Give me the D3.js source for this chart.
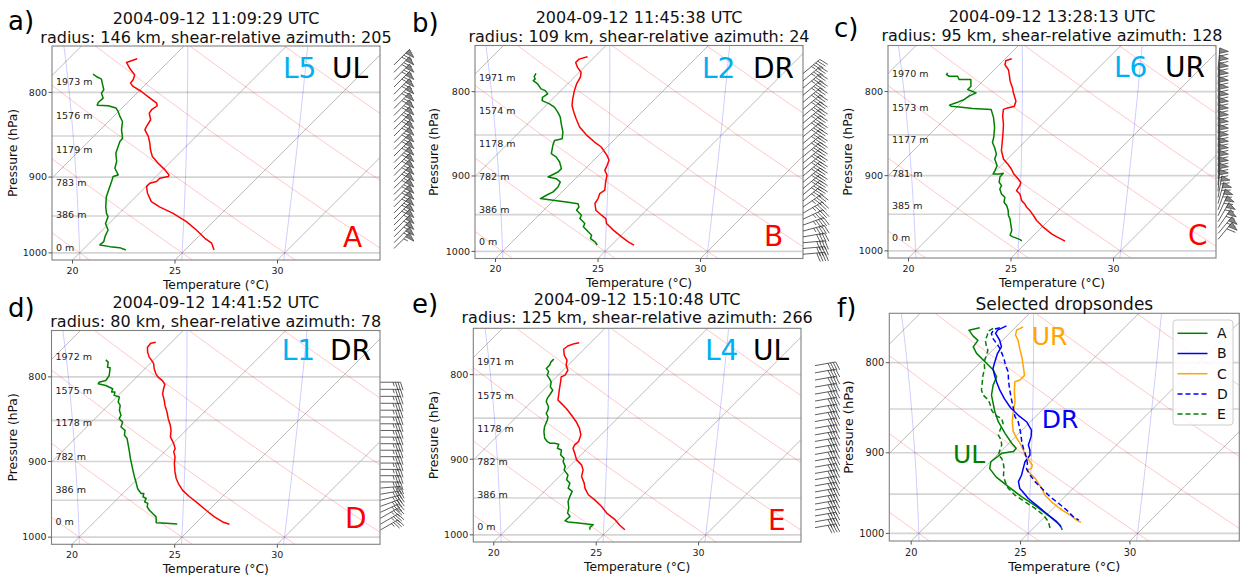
<!DOCTYPE html>
<html><head><meta charset="utf-8">
<script src="https://cdn.jsdelivr.net/npm/d3@7"></script>
<style>body{margin:0;background:#fff}svg text{font-family:"DejaVu Sans",sans-serif}</style>
</head><body>
<svg id="c" width="1245" height="575"></svg>
<script>
// ---------------- DATA ----------------
const tempTicks=[20,25,30];
const presTicks=[800,900,1000];
const presGrid=[800,850,900,950,1000];

// Sounding A (panel a)
const A_tP=[763.5,767.4,773.5,780.7,786.1,789.7,793.4,799,806.4,812,815,819.5,823.4,831,838.8,842.7,850.5,858.5,866.5,874.7,882.8,891,897.3,899.3,901.4,905.6,907.8,912,920.4,931.3,938,946.5,957.6,968.7,980,986.7,995.9];
const A_tT=[13.34,13.0,13.43,14.0,14.17,14.2,14.49,15.14,15.88,16.45,16.61,16.53,16.58,16.97,17.1,17.18,17.67,18.07,18.43,18.85,19.46,20.11,20.56,20.6,20.27,20.27,20.03,20.03,20.4,21.0,21.65,22.63,23.69,24.58,25.4,25.97,26.41];
const A_dP=[780,782.5,785.4,789.7,797,800.8,806.4,811.3,814.3,815,817.6,821.5,827.2,833,842.7,852.6,856.5,862.5,870.5,880.7,889,897.3,899.3,905.6,914,924.8,937.8,946.5,950.9,960,968.7,977,984.6,989,991.4,992.8,996];
const A_dT=[11.94,12.21,12.59,12.82,13.22,13.27,13.6,13.57,13.65,14.22,14.71,14.98,15.31,15.68,16.04,16.5,16.53,16.69,16.9,17.35,17.59,18.08,17.91,18.08,18.29,18.56,19.02,19.38,19.62,19.83,20.27,20.43,20.63,20.6,21.17,21.7,22.11];
// Sounding B
const B_tP=[761.9,764.4,768,773.3,778.6,784,791.4,798.8,808.1,815.6,823.2,830.9,840.5,850,858.3,864.3,874.5,880.5,886.7,892.9,899.1,907.6,918.1,922.5,928.9,935.3,944.1,950.7,955.2,961.8,970.7,980,986.7,991.2];
const B_tT=[14.65,14.35,14.35,14.68,15.09,15.3,15.44,15.66,15.98,16.27,16.68,17.12,17.69,18.42,19.15,19.72,20.41,20.75,20.9,21.03,21.38,21.64,22.0,21.92,22.08,22.17,22.54,23.06,23.43,23.71,24.36,25.1,25.66,26.1];
const B_dP=[779.7,783.4,785.9,787.7,791.4,796.9,798.8,802.5,806.3,810,813.7,817.5,823.2,828.9,836.6,846.4,854.4,856.4,862.3,872.4,876.5,882.6,890.8,895,899.1,901.3,903.4,907.6,914,920.2,924.6,928.9,931.1,933.3,935.5,939.9,944.1,950.7,955.2,961.8,966.3,973,977.6,982.2,986.7,991.2];
const B_dT=[12.94,13.02,13.18,13.16,13.54,13.95,14.24,14.52,14.43,14.57,15.09,15.49,15.9,16.26,16.63,17.12,17.41,17.12,17.28,17.61,18.02,18.42,18.83,18.83,18.67,18.59,19.07,19.43,19.56,19.56,19.4,19.27,19.97,20.7,21.35,21.56,21.6,22.08,22.17,22.65,22.74,23.22,23.55,23.66,24.04,24.31];
// Sounding C
const C_tP=[764.1,766.2,770.5,775.9,781.2,788.4,795.9,801.4,810.8,816.6,818.5,820.2,827.9,837.5,847.2,857.1,869.1,879.5,885.8,891.7,897.9,904.2,908.5,912.7,919,923.3,932,936.4,940.6,945.1,951.6,958.3,967.3,976.4,980.6,986.3];
const C_tT=[15.32,15.12,15.28,15.69,15.97,16.33,16.78,17.06,17.59,17.76,17.51,17.38,17.67,18.11,18.49,18.86,19.3,19.82,20.28,20.68,21.04,21.5,21.79,21.9,21.98,22.31,22.72,23.04,23.28,23.61,24.02,24.42,25.07,25.8,26.21,26.81];
const C_dP=[779.4,781.2,783,783,786.7,786.7,794.1,797.7,801.4,804.9,808.9,812.7,815.3,816.5,817.6,819.1,820.2,829.7,841.4,853.2,859.1,865.2,873.2,879.3,887.5,893.6,897.9,897.9,897,902.1,908.4,912.7,917,923.3,927.7,934.1,938.5,945.1,951.6,956.1,962.8,971.7,978.4,980.6,984.3,986.3];
const C_dT=[12.88,12.91,13.12,13.53,13.77,14.34,14.67,14.67,15.24,15.07,14.99,14.75,14.54,14.67,15.12,15.84,16.78,17.3,17.84,18.28,18.46,18.81,19.22,19.38,19.82,19.95,20.03,20.33,20.49,20.52,20.73,21.01,21.09,21.41,21.74,21.94,22.23,22.55,22.8,23.04,23.32,23.69,23.85,24.07,24.55,24.7];
// Sounding D
const D_tP=[762.4,763.4,767.6,772.9,778.3,781.9,785.5,791,796.6,800.3,804.1,808.6,813.3,819.1,826.6,832.4,840.1,848,855.8,861.8,869.7,877.9,884,888,894.3,902.6,913.2,921.6,928.1,936.9,945.3,954.1,963.2,972.2,979.1,982.2];
const D_tT=[14.24,14.04,14.07,14.32,14.64,14.92,15.18,15.45,15.78,16.05,16.43,16.74,16.88,17.08,17.48,17.76,18.18,18.57,18.99,19.27,19.56,20.05,20.36,20.45,20.76,21.05,21.49,21.87,22.22,22.76,23.41,24.14,24.87,25.6,26.25,26.69];
const D_dP=[781.3,783.8,789.3,790,798.5,804.1,806,807.8,809.7,813.3,817,817,820.9,822.8,828.5,832.4,838.1,844,848,851.9,857.8,861.8,867.7,871.7,880,888.2,896.4,904.7,910.9,919.6,926.1,934.8,941,941,945.3,947.6,951.9,954.1,958.6,963.2,967.7,972.2,980.1,981,982];
const D_dT=[12.66,12.89,13.1,13.26,13.59,13.67,13.42,13.46,13.91,14.4,14.51,14.67,14.8,15.13,15.32,15.58,15.78,16.1,16.18,16.51,16.67,17.03,17.24,17.53,17.92,18.3,18.67,19.06,19.35,19.76,20.08,20.49,20.89,21.02,21.14,21.38,21.46,21.7,21.83,22.11,22.43,22.76,23.05,23.57,24.14];
// Sounding E
const E_tP=[765.2,766.2,768.7,772.2,778.8,784.1,789.5,795.1,800.6,802.5,808,815.5,823,828.8,832.7,838.6,846.3,854.2,862.2,870,878.3,882.3,886.4,892.6,900.8,907.1,913.5,922,930.5,937,945.7,952.4,961.2,970.1,979.1,986.3,992.9];
const E_tT=[14.44,14.25,14.04,14.0,14.33,14.7,14.9,15.23,15.34,15.23,15.44,15.71,15.99,16.2,16.53,17.02,17.59,18.15,18.64,19.02,19.24,19.21,19.29,19.62,20.03,20.52,20.84,21.09,21.54,21.82,22.31,22.87,23.53,24.1,24.83,25.31,25.8];
const E_dP=[782.9,785.9,789.5,793.1,796.7,800.6,804.4,808,813.8,817.6,823,826.9,830.7,836.6,840.4,844.3,848.3,852.2,860.2,866.1,874.1,878.3,880.2,880.2,881.5,886.4,888.5,894.7,898.8,903,909.3,913.5,920,926.2,930.5,937,941.3,947.9,954.6,963.5,970.1,974.6,980.5,982.3,983.6,985.9,989.6,992.8];
const E_dT=[14.0,14.0,14.09,14.09,14.36,14.46,14.74,14.98,15.19,15.47,15.55,15.6,15.71,16.07,16.2,16.28,16.53,16.66,16.85,17.06,17.42,17.72,17.91,18.15,18.4,18.53,18.81,19.02,19.34,19.46,19.81,19.91,20.35,20.52,20.84,21.0,21.36,21.49,21.65,22.01,22.19,22.47,22.44,22.66,23.2,24.01,23.98,24.09];

// Panel f : selected (smoothed) temperature profiles
const F_A_P=[764.4,766.7,772.5,777,783.6,790.3,799,807.8,814.9,823.8,834.6,843.8,853.1,864.2,877.4,888.9,894.7,898.6,900.6,910.6,918.8,929.1,940.8,953.2,965.7,978.4,989.1,995.6];
const F_A_T=[13.39,13.0,13.45,13.88,13.96,14.41,15.18,15.94,16.4,16.62,17.0,17.46,17.92,18.53,19.37,20.13,20.56,20.59,20.13,20.02,20.28,20.97,21.96,23.02,24.17,25.23,26.07,26.41];
const F_B_P=[762.4,766.7,770,776.9,783.6,790.3,799,806.3,813.4,820.2,829.3,838.8,848.5,857.7,864.2,873.7,881.2,890.9,896.8,902.6,910.6,918.8,926.5,934.6,943.1,947.3,955.4,965.7,976.2,984.8,991.3];
const F_B_T=[14.52,14.31,14.37,14.87,15.25,15.37,15.63,15.86,16.24,16.62,17.16,17.77,18.45,19.21,19.82,20.43,20.71,20.97,21.27,21.5,21.58,21.81,22.03,22.19,22.57,22.87,23.41,24.24,25.08,25.77,26.2];
const F_C_P=[763.4,766.7,771.7,776.9,785.5,794.1,802.6,813.4,818.6,820.2,830.9,841.9,853.1,864.2,875.5,883.1,888.9,896.8,902.6,908.6,914.5,918.8,920.5,924.5,930.5,936.7,942.8,951.1,959.6,968,976.2,982.7,985.7];
const F_C_T=[15.33,15.18,15.36,15.71,16.17,16.65,17.08,17.61,17.61,17.46,17.89,18.38,18.76,19.17,19.67,20.13,20.51,20.97,21.27,21.68,22.06,22.19,22.03,22.34,22.8,23.18,23.56,24.01,24.62,25.31,26.07,26.61,26.91];
const F_D_P=[764.4,765.7,770,775.2,780.1,785.2,795.8,802.6,809.6,818.8,827.8,838.5,849.3,858.5,864.2,871.8,879.3,886.9,894.7,900.6,906.6,912.9,918.8,926.5,934.6,942.8,953.2,961.4,969.9,978.4,982.7];
const F_D_T=[14.31,14.11,14.18,14.49,14.87,15.25,15.91,16.27,16.7,17.11,17.54,18.07,18.61,19.06,19.44,19.82,20.17,20.51,20.89,21.2,21.5,21.78,21.96,22.42,22.95,23.56,24.32,25.01,25.69,26.3,26.71];
const F_E_P=[765,767.7,772,776.9,782.1,787.2,792.2,799,806.3,813.4,820.2,829.3,834.6,840,845.3,851.1,856.8,860.4,866.2,873.6,879.3,885.1,890.9,896.8,902.6,906.6,912.5,918.8,926.5,934.6,942.8,951.1,959.6,967.8,976.2,984.8,993.4];
const F_E_T=[14.03,13.93,14.08,14.21,14.49,14.79,14.95,15.14,15.48,15.71,15.97,16.32,16.62,17.08,17.39,17.69,18.07,18.53,18.83,18.99,19.14,19.49,19.75,19.9,20.05,20.36,20.66,20.94,21.2,21.58,22.03,22.64,23.41,24.17,24.85,25.39,25.77];
const legendNames=["A","B","C","D","E"];

// Height labels (text) and their pressure levels
const A_hTxt=["1973 m","1576 m","1179 m","783 m","386 m","0 m"], A_hP=[787.9,826.5,866.8,906.4,948.6,992.3];
const B_hTxt=["1971 m","1574 m","1178 m","782 m","386 m","0 m"], B_hP=[784.1,821.3,860.3,900.4,943.1,986.7];
const C_hTxt=["1970 m","1573 m","1177 m","781 m","385 m","0 m"], C_hP=[779.9,818,855.5,897.4,938.6,981.7];
const D_hTxt=["1972 m","1575 m","1178 m","782 m","386 m","0 m"], D_hP=[777.6,815.2,853,894.3,935.4,978.8];
const E_hTxt=["1971 m","1575 m","1178 m","782 m","386 m","0 m"], E_hP=[785.5,823.5,862.4,902.5,945.3,988.7];

// Titles / tags
const titles1=["2004-09-12 11:09:29 UTC","2004-09-12 11:45:38 UTC","2004-09-12 13:28:13 UTC","2004-09-12 14:41:52 UTC","2004-09-12 15:10:48 UTC"];
const titles2=["radius: 146 km, shear-relative azimuth: 205","radius: 109 km, shear-relative azimuth: 24","radius: 95 km, shear-relative azimuth: 128","radius: 80 km, shear-relative azimuth: 78","radius: 125 km, shear-relative azimuth: 266"];
const legTags=["L5","L2","L6","L1","L4"];
const quadTags=["UL","DR","UR","DR","UL"];
const sondeTags=["A","B","C","D","E"];
const panelLetters=["a)","b)","c)","d)","e)","f)"];

// Wind barbs (pressure hPa, direction deg, speed kt)
const A_bP=[770,778,786,794,802,810,818,826,834,842,850,858,866,874,882,890,898,906,914,922,930,938,946,954,962,970,978,986,994];
const A_bD=[45,45,45,45,45,45,45,45,45,45,45,45,45,45,45,45,45,45,45,45,45,45,45,45,45,45,45,45,45];
const A_bS=[65,65,65,65,65,65,65,65,65,65,65,65,65,65,65,65,65,65,65,65,65,65,65,65,60,60,60,55,55];
const B_bP=[780,788,796,804,812,820,828,836,844,852,860,868,876,884,892,900,908,916,924,932,940,948,956,964,972,980,988,996,1004];
const B_bD=[50,50,50,50,50,50,50,50,50,50,50,50,50,50,50,50,50,50,50,50,55,60,65,70,75,80,85,85,85];
const B_bS=[45,45,45,45,45,45,45,45,45,45,45,45,45,45,45,45,45,45,45,45,45,45,45,45,45,40,40,40,40];
const C_bP=[776,784,792,800,808,816,824,832,840,848,856,864,872,880,888,896,904,912,920,928,936,944,952,960,968,976,984];
const C_bD=[5,5,5,5,5,5,5,5,5,5,5,5,5,5,5,5,5,5,5,10,15,20,25,30,35,40,40];
const C_bS=[60,60,60,60,60,60,60,60,60,60,60,60,60,60,60,60,60,60,60,60,60,60,60,60,60,60,60];
const D_bP=[806,814,822,830,838,846,854,862,870,878,886,894,902,910,918,926,934,942,950,958,966,974,982,990];
const D_bD=[90,90,90,90,90,90,90,90,90,90,90,90,90,90,90,90,85,80,75,70,65,60,60,60];
const D_bS=[35,35,35,35,35,35,35,35,35,35,35,35,35,35,35,35,35,35,35,35,35,35,35,35];
const E_bP=[790,798,806,814,822,830,838,846,854,862,870,878,886,894,902,910,918,926,934,942,950,958,966,974,982,990];
const E_bD=[80,80,80,80,80,80,80,80,80,80,80,80,80,80,80,80,80,80,80,80,80,80,80,80,80,80];
const E_bS=[40,40,40,40,40,40,40,40,40,40,40,40,40,40,40,40,40,40,40,40,40,40,40,40,40,40];

// background line families (°C at 1000 hPa / isotherm value)
const isotherms=d3.range(-60,40,5);
const dryStarts=d3.range(-20,85,5);
const moistStarts=[10,15,20,25,30,35];

// ---------------- RENDER ----------------
const svg=d3.select("#c");
const pDom=[1010,750], tDom=[19,35];
const Rd=287.04749,Cp=1004.6662,Lv=2.50084e6,EPS=0.6219569;
function moistLine(t0){
  const f=(p,T)=>{const tc=T-273.15;const es=6.112*Math.exp(17.67*tc/(tc+243.5));const rs=EPS*es/(p-es);
    return (Rd*T+Lv*rs)/(Cp+(Lv*Lv*rs*EPS)/(Rd*T*T))/p;};
  const integ=(h,pEnd)=>{let p=1000,T=t0+273.15;const out=[];
    while((h<0&&p>pEnd)||(h>0&&p<pEnd)){const k1=f(p,T),k2=f(p+h/2,T+h/2*k1),k3=f(p+h/2,T+h/2*k2),k4=f(p+h,T+h*k3);
      T+=h/6*(k1+2*k2+2*k3+k4);p+=h;out.push([p,T-273.15]);}return out;};
  return integ(1,1015).reverse().concat([[1000,t0]],integ(-1,745));
}
let clipId=0;
function panel(cfg){
  const g=svg.append("g");
  const x=d3.scaleLinear().domain(tDom).range([cfg.L,cfg.R]);
  const y=d3.scaleLog().domain(pDom).range([cfg.B,cfg.T]);
  const sx=(T,p)=>x(T)+(cfg.B-y(p));
  const id="clip"+(clipId++);
  svg.append("clipPath").attr("id",id).append("rect").attr("x",cfg.L).attr("y",cfg.T).attr("width",cfg.R-cfg.L).attr("height",cfg.B-cfg.T);
  const pg=g.append("g").attr("clip-path",`url(#${id})`);
  const line=d3.line().x(d=>sx(d[1],d[0])).y(d=>y(d[0]));
  pg.selectAll(".hg").data(presGrid).join("line").attr("x1",cfg.L).attr("x2",cfg.R).attr("y1",d=>y(d)).attr("y2",d=>y(d))
    .attr("stroke","#d4d4d4").attr("stroke-width",1.6);
  pg.selectAll(".iso").data(isotherms).join("line").attr("x1",d=>sx(d,1010)).attr("y1",y(1010)).attr("x2",d=>sx(d,750)).attr("y2",y(750))
    .attr("stroke","#ababab").attr("stroke-width",0.8);
  const pl=d3.range(1015,744,-5);
  pg.selectAll(".dry").data(dryStarts).join("path").attr("fill","none").attr("stroke","#ff0000").attr("stroke-opacity",0.22).attr("stroke-width",1)
    .attr("d",t0=>line(pl.map(p=>[p,(t0+273.15)*Math.pow(p/1000,0.28571)-273.15])));
  pg.selectAll(".moist").data(moistStarts).join("path").attr("fill","none").attr("stroke","#0000ff").attr("stroke-opacity",0.2).attr("stroke-width",1)
    .attr("d",t0=>line(moistLine(t0)));
  cfg.series.forEach(s=>{
    pg.append("path").attr("fill","none").attr("stroke",s.color).attr("stroke-width",s.w||1.5)
      .attr("stroke-dasharray",s.dash||null).attr("stroke-linejoin","round")
      .attr("d",line(s.P.map((p,i)=>[p,s.T[i]])));
  });
  g.append("rect").attr("x",cfg.L).attr("y",cfg.T).attr("width",cfg.R-cfg.L).attr("height",cfg.B-cfg.T).attr("fill","none").attr("stroke","#808080").attr("stroke-width",1.1);
  const fs=cfg.tickFs;
  presTicks.forEach(p=>{
    g.append("line").attr("x1",cfg.L-3.5).attr("x2",cfg.L).attr("y1",y(p)).attr("y2",y(p)).attr("stroke","#555");
    g.append("text").attr("x",cfg.L-5).attr("y",y(p)).attr("dy","0.35em").attr("text-anchor","end").attr("font-size",fs).attr("fill","#222").text(p);
  });
  tempTicks.forEach(t=>{
    g.append("line").attr("x1",x(t)).attr("x2",x(t)).attr("y1",cfg.B).attr("y2",cfg.B+3.5).attr("stroke","#555");
    g.append("text").attr("x",x(t)).attr("y",cfg.B+cfg.tickDy).attr("text-anchor","middle").attr("font-size",fs).attr("fill","#222").text(t);
  });
  g.append("text").attr("x",(cfg.L+cfg.R)/2).attr("y",cfg.B+cfg.labDy).attr("text-anchor","middle").attr("font-size",cfg.labFs).attr("fill","#111").text("Temperature (°C)");
  g.append("text").attr("transform",`translate(${cfg.yLabX},${(cfg.T+cfg.B)/2}) rotate(-90)`).attr("text-anchor","middle").attr("dy","0.35em").attr("font-size",cfg.labFs).attr("fill","#111").text("Pressure (hPa)");
  if(cfg.hTxt){
    cfg.hTxt.forEach((t,i)=>g.append("text").attr("x",cfg.L+4).attr("y",y(cfg.hP[i])).attr("dy","0.35em").attr("font-size",9.5).attr("fill","#222").text(t));
  }
  if(cfg.barb){
    const b=cfg.barb;
    b.P.forEach((p,i)=>drawBarb(g,b.x,y(p),b.D[i],b.S[i],b.len));
  }
  return {x,y,sx};
}
function drawBarb(g,x0,y0,dir,spd,L){
  const r=dir*Math.PI/180;
  const ux=Math.sin(r),uy=-Math.cos(r);
  const px=-uy,py=ux;
  const H=0.4*L,Wd=0.25*L,sp=0.125*L;
  let s=Math.round(spd/5)*5;
  const nf=Math.floor(s/50); s-=nf*50; const nb=Math.floor(s/10); s-=nb*10; const half=s>=5;
  const pt=(a,b)=>[x0+ux*a+px*b,y0+uy*a+py*b];
  let path=`M${pt(0,0)}L${pt(L,0)}`;
  let off=L;
  const polys=[];
  for(let i=0;i<nf;i++){polys.push([pt(off,0),pt(off-Wd/2,H),pt(off-Wd,0)]);off-=Wd+sp;}
  for(let i=0;i<nb;i++){path+=`M${pt(off,0)}L${pt(off+Wd/2,H)}`;off-=sp;}
  if(half){if(off===L)off-=1.5*sp;path+=`M${pt(off,0)}L${pt(off+Wd/4,H/2)}`;}
  g.append("path").attr("d",path).attr("stroke","#2a2a2a").attr("stroke-width",0.75).attr("fill","none");
  polys.forEach(pp=>g.append("path").attr("d",`M${pp[0]}L${pp[1]}L${pp[2]}Z`).attr("fill","#888").attr("stroke","#2a2a2a").attr("stroke-width",0.6));
}

const base={tickFs:9.5,labFs:12.3,tickDy:13.5,labDy:28.5};
const cfgs=[
  {L:52,R:380,T:46,B:260,yLabX:13,t1y:24,t2y:42.7,lx:8,ly:30,lt:[283,77.5],qt:[332,77.5],st:[343,247],
   series:[{P:A_tP,T:A_tT,color:"#ff0000"},{P:A_dP,T:A_dT,color:"#008000"}],hTxt:A_hTxt,hP:A_hP,
   barb:{x:394,P:A_bP,D:A_bD,S:A_bS,len:22}},
  {L:475,R:803,T:45.5,B:258.5,yLabX:434,t1y:23,t2y:41.7,lx:412,ly:32,lt:[702,78],qt:[753,78],st:[764,246],
   series:[{P:B_tP,T:B_tT,color:"#ff0000"},{P:B_dP,T:B_dT,color:"#008000"}],hTxt:B_hTxt,hP:B_hP,
   barb:{x:803,P:B_bP,D:B_bD,S:B_bS,len:22}},
  {L:888,R:1216,T:45.5,B:258,yLabX:848,t1y:22,t2y:40.7,lx:834,ly:37,lt:[1114,77],qt:[1165,77],st:[1188,245],
   series:[{P:C_tP,T:C_tT,color:"#ff0000"},{P:C_dP,T:C_dT,color:"#008000"}],hTxt:C_hTxt,hP:C_hP,
   barb:{x:1218,P:C_bP,D:C_bD,S:C_bS,len:22}},
  {L:51.5,R:380,T:330.5,B:544.3,yLabX:13,t1y:308,t2y:326.7,lx:8,ly:317,lt:[281.7,360],qt:[330,360],st:[345,528],
   series:[{P:D_tP,T:D_tT,color:"#ff0000"},{P:D_dP,T:D_dT,color:"#008000"}],hTxt:D_hTxt,hP:D_hP,
   barb:{x:380.5,P:D_bP,D:D_bD,S:D_bS,len:20}},
  {L:473.3,R:801,T:328.3,B:542,yLabX:434,t1y:304.6,t2y:323.3,lx:412,ly:313,lt:[705,360],qt:[753,360],st:[768,530],
   series:[{P:E_tP,T:E_tT,color:"#ff0000"},{P:E_dP,T:E_dT,color:"#008000"}],hTxt:E_hTxt,hP:E_hP,
   barb:{x:815,P:E_bP,D:E_bD,S:E_bS,len:21}}
];
cfgs.forEach((c,i)=>{
  const cfg=Object.assign({},base,c);
  panel(cfg);
  const cx=(c.L+c.R)/2;
  svg.append("text").attr("x",cx).attr("y",c.t1y).attr("text-anchor","middle").attr("font-size",16).attr("fill","#111").text(titles1[i]);
  svg.append("text").attr("x",cx).attr("y",c.t2y).attr("text-anchor","middle").attr("font-size",16).attr("fill","#111").text(titles2[i]);
  svg.append("text").attr("x",c.lx).attr("y",c.ly).attr("font-size",26).attr("font-family","Lato").attr("fill","#000").text(panelLetters[i]);
  svg.append("text").attr("x",c.lt[0]).attr("y",c.lt[1]).attr("font-size",28).attr("font-family","Lato").attr("fill","#00b0f0").text(legTags[i]);
  svg.append("text").attr("x",c.qt[0]).attr("y",c.qt[1]).attr("font-size",28).attr("font-family","Lato").attr("fill","#000").text(quadTags[i]);
  svg.append("text").attr("x",c.st[0]).attr("y",c.st[1]).attr("font-size",28).attr("font-family","Lato").attr("fill","#ff0000").text(sondeTags[i]);
});
// panel f
const fSeries=[
  {P:F_A_P,T:F_A_T,color:"#008000"},
  {P:F_B_P,T:F_B_T,color:"#0000ff"},
  {P:F_C_P,T:F_C_T,color:"#ffa500"},
  {P:F_D_P,T:F_D_T,color:"#0000ff",dash:"5,3"},
  {P:F_E_P,T:F_E_T,color:"#008000",dash:"5,3"}
];
const fc=Object.assign({},base,{L:889.3,R:1239.3,T:313.3,B:541,yLabX:848,tickFs:9.8,labFs:13,tickDy:14.5,labDy:30,series:fSeries});
panel(fc);
svg.append("text").attr("x",(fc.L+fc.R)/2).attr("y",310).attr("text-anchor","middle").attr("font-size",17).attr("fill","#111").text("Selected dropsondes");
svg.append("text").attr("x",837).attr("y",317).attr("font-size",26).attr("font-family","Lato").attr("fill","#000").text("f)");
svg.append("text").attr("x",1031.7).attr("y",345).attr("font-size",25).attr("font-family","Lato").attr("fill","#ffa500").text("UR");
svg.append("text").attr("x",1041.7).attr("y",428).attr("font-size",25).attr("font-family","Lato").attr("fill","#0000ff").text("DR");
svg.append("text").attr("x",953).attr("y",463).attr("font-size",25).attr("font-family","Lato").attr("fill","#008000").text("UL");
const lg=svg.append("g");
lg.append("rect").attr("x",1173).attr("y",320).attr("width",60).attr("height",105).attr("rx",3).attr("fill","#fff").attr("fill-opacity",0.85).attr("stroke","#ccc");
fSeries.forEach((s,i)=>{
  const yy=333.3+i*20.2;
  lg.append("line").attr("x1",1177.5).attr("x2",1207.5).attr("y1",yy).attr("y2",yy).attr("stroke",s.color).attr("stroke-width",1.5).attr("stroke-dasharray",s.dash||null);
  lg.append("text").attr("x",1217).attr("y",yy).attr("dy","0.35em").attr("font-size",14).attr("fill","#111").text(legendNames[i]);
});
</script>
</body></html>
